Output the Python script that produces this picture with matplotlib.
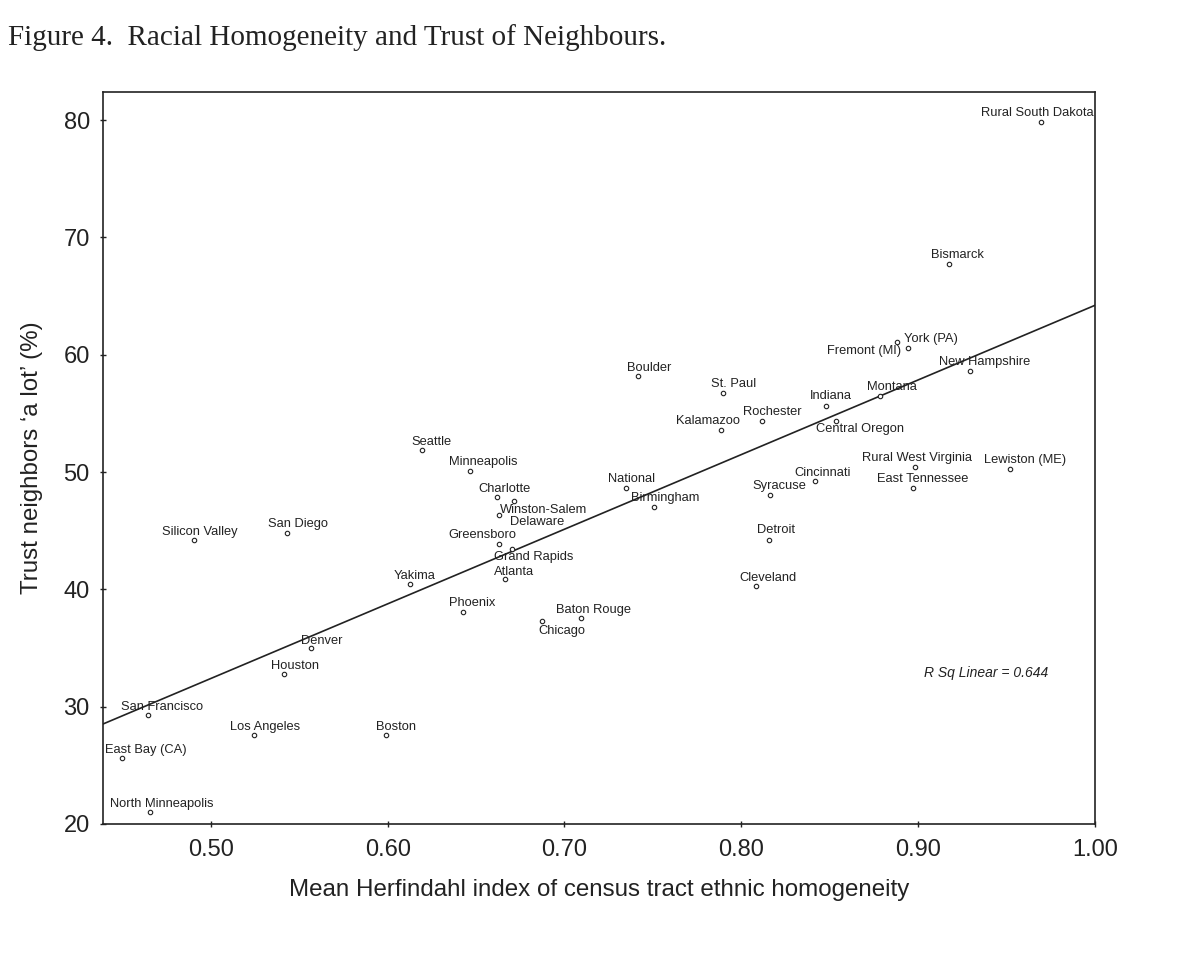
import numpy as np
import matplotlib
matplotlib.use("Agg")
import matplotlib.pyplot as plt

plt.rcParams['font.family'] = ['Liberation Sans', 'DejaVu Sans']

# communities, values
places = ["Silicon Valley", "San Diego", "Yakima", "Phoenix", "Denver", "Houston",
          "San Francisco", "Los Angeles", "Boston", "East Bay (CA)", "North Minneapolis",
          "Seattle", "Minneapolis", "Charlotte", "Delaware", "Winston-Salem",
          "Greensboro", "Grand Rapids", "Atlanta", "Chicago", "Baton Rouge",
          "National", "Birmingham", "Boulder", "St. Paul", "Kalamazoo", "Rochester",
          "Indiana", "Central Oregon", "Syracuse", "Cincinnati", "Detroit",
          "Cleveland", "Montana", "York (PA)", "Fremont (MI)", "New Hampshire",
          "Bismarck", "Rural West Virginia", "East Tennessee", "Lewiston (ME)",
          "Rural South Dakota"]
herfindahl = [0.4906, 0.5430, 0.6126, 0.6427, 0.5567, 0.5415,
              0.4645, 0.5243, 0.5992, 0.4495, 0.4657,
              0.6192, 0.6465, 0.6616, 0.6715, 0.6627,
              0.6627, 0.6701, 0.6665, 0.6874, 0.7093,
              0.7347, 0.7504, 0.7413, 0.7896, 0.7883, 0.8117,
              0.8477, 0.8537, 0.8163, 0.8416, 0.8158,
              0.8081, 0.8786, 0.8880, 0.8941, 0.9293,
              0.9176, 0.8980, 0.8971, 0.9521,
              0.9695]
trust = [44.21, 44.77, 40.48, 38.06, 35.04, 32.79,
         29.29, 27.56, 27.56, 25.59, 21.03,
         51.86, 50.13, 47.91, 47.51, 46.35,
         43.87, 43.44, 40.85, 37.32, 37.60,
         48.68, 47.03, 58.18, 56.73, 53.60, 54.34,
         55.62, 54.31, 48.05, 49.21, 44.21,
         40.28, 56.45, 61.08, 60.61, 58.58,
         67.72, 50.41, 48.65, 50.30,
         79.87]

# label offsets in pixels (dx right, dy up) relative to the marker
label_offsets = {
    "Silicon Valley": (6, 8), "San Diego": (11, 9), "Yakima": (5, 8),
    "Phoenix": (9, 9), "Denver": (11, 7), "Houston": (11, 8),
    "San Francisco": (14, 8), "Los Angeles": (11, 8), "Boston": (10, 8),
    "East Bay (CA)": (24, 8), "North Minneapolis": (12, 8), "Seattle": (10, 8),
    "Minneapolis": (13, 9), "Charlotte": (8, 8), "Delaware": (23, -21),
    "Winston-Salem": (45, 5), "Greensboro": (-16, 9), "Grand Rapids": (22, -8),
    "Atlanta": (9, 7), "Chicago": (20, -10), "Baton Rouge": (13, 8),
    "National": (6, 9), "Birmingham": (12, 9), "Boulder": (12, 8),
    "St. Paul": (11, 9), "Kalamazoo": (-13, 9), "Rochester": (10, 9),
    "Indiana": (5, 10), "Central Oregon": (24, -8), "Syracuse": (9, 9),
    "Cincinnati": (8, 8), "Detroit": (7, 10), "Cleveland": (12, 8),
    "Montana": (12, 9), "York (PA)": (34, 3), "Fremont (MI)": (-44, -3),
    "New Hampshire": (15, 9), "Bismarck": (8, 9), "Rural West Virginia": (2, 9),
    "East Tennessee": (10, 9), "Lewiston (ME)": (15, 9), "Rural South Dakota": (-4, 9),
}

r_sq_text = "R Sq Linear = 0.644"

x = np.array(herfindahl)
y = np.array(trust)

fig = plt.figure(figsize=(12, 9.6), dpi=100)
ax = fig.add_axes([0.0858, 0.1417, 0.8267, 0.7625])

ax.plot(x, y, 'o', ms=3.2, mfc='white', mec='#222222', mew=0.8, zorder=3)

for name, xi, yi in zip(places, x, y):
    dx, dy = label_offsets[name]
    ax.annotate(name, (xi, yi), xytext=(dx, dy), textcoords='offset pixels',
                ha='center', va='center', fontsize=9.3, color='#222222', zorder=4)

# linear fit line
slope, icpt = np.polyfit(x, y, 1)
xl = np.array([0.439, 1.0])
ax.plot(xl, slope * xl + icpt, color='#222222', lw=1.2, zorder=2)

ax.text(0.890, 0.206, r_sq_text, transform=ax.transAxes, fontsize=10,
        style='italic', ha='center', va='center', color='#222222')

ax.set_xlim(0.439, 1.0)
ax.set_ylim(20, 82.4)
ax.set_xticks([0.5, 0.6, 0.7, 0.8, 0.9, 1.0])
ax.set_xticklabels(["0.50", "0.60", "0.70", "0.80", "0.90", "1.00"])
ax.set_yticks([20, 30, 40, 50, 60, 70, 80])
ax.tick_params(direction='inout', length=5, width=1, labelsize=17,
               colors='#222222')
ax.tick_params(axis='x', pad=8)
ax.tick_params(axis='y', pad=7)
for s in ax.spines.values():
    s.set_linewidth(1.2)
    s.set_color('#222222')

ax.set_xlabel("Mean Herfindahl index of census tract ethnic homogeneity",
              fontsize=17.4, labelpad=13, color='#222222')
ax.set_ylabel("Trust neighbors \u2018a lot\u2019 (%)", fontsize=17.4,
              labelpad=15, color='#222222')

fig.text(0.007, 0.961, "Figure 4.  Racial Homogeneity and Trust of Neighbours.",
         family=['Liberation Serif', 'DejaVu Serif'], fontsize=21,
         ha='left', va='center', color='#222222')

fig.savefig("out.png", dpi=100, facecolor='white')
